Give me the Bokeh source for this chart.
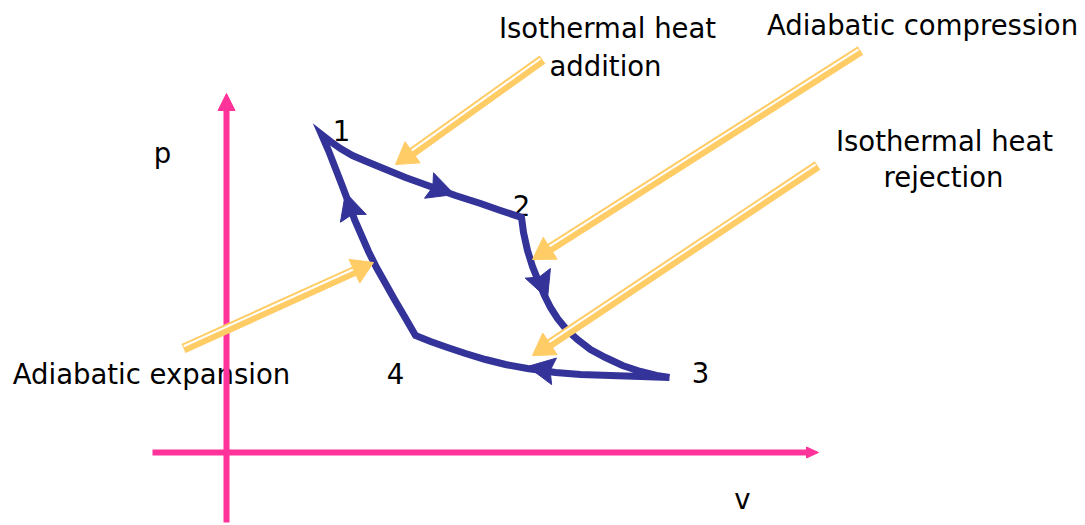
import numpy as np
from bokeh.plotting import figure
from bokeh.models import Range1d
from bokeh.core.properties import value
from bokeh.embed import file_html
from bokeh.resources import INLINE

# ---- data (diagram coordinates: x to the right, y downward, in px of the page) ----
# cycle segments
seg12_x = [321, 330, 340, 352, 366, 383, 405, 430, 455, 480, 500, 521]
seg12_y = [134, 141, 148, 155, 161, 168, 177, 186, 195, 203, 210, 217]
seg23_x = [521, 523, 527, 532, 538, 544, 550, 557, 566, 577, 590, 605, 622, 640, 656, 669]
seg23_y = [217, 232, 250, 266, 281, 295, 307, 318, 329, 339, 349, 357, 365, 371, 375, 377]
seg34_x = [669, 640, 610, 580, 555, 527, 505, 485, 465, 447, 430, 415]
seg34_y = [377, 376, 375, 374, 372, 368, 364, 359, 353, 347, 341, 335]
seg41_x = [415, 404, 394, 385, 376, 368, 361, 354, 348, 342, 335, 328, 321]
seg41_y = [335, 316, 299, 283, 267, 251, 235, 219, 202, 186, 168, 150, 134]

# direction arrows on the cycle (tip, and a point behind it on the curve)
cyc_tip_x = [454, 547, 527, 345]
cyc_tip_y = [194, 298, 366, 192]
cyc_back_x = [420, 537, 560, 352]
cyc_back_y = [182, 272, 372, 215]

# coordinate axes (start -> tip)
axis_start_x = [226, 152]
axis_start_y = [522, 452]
axis_tip_x = [226, 818]
axis_tip_y = [93, 452]

# yellow pointer arrows (tail -> tip)
ptr_tail_x = [542, 860, 817, 183]
ptr_tail_y = [59, 50, 165, 348]
ptr_tip_x = [395, 532, 532, 373]
ptr_tip_y = [164, 259, 355, 262]

# texts
label_text = ["Isothermal heat", "addition", "Adiabatic compression",
              "Isothermal heat", "rejection", "Adiabatic expansion"]
label_x = [607, 605, 922, 944, 943, 151]
label_y = [27, 65, 24, 140, 176, 373]
axis_label_text = ["p", "v"]
axis_label_x = [162, 742]
axis_label_y = [152, 498]
state_text = ["1", "2", "3", "4"]
state_x = [341, 521, 700, 395]
state_y = [130, 205, 372, 373]

BLUE = "#333399"
PINK = "#FF3399"
YELLOW = "#FFCC66"
FONT = "DejaVu Sans"
FS = "27.5px"


def heads(tx, ty, bx, by, length, width, notch=0.0):
    xs, ys = [], []
    for x1, y1, x0, y0 in zip(tx, ty, bx, by):
        d = np.array([x1 - x0, y1 - y0], float)
        d /= np.hypot(*d)
        n = np.array([-d[1], d[0]])
        tip = np.array([x1, y1], float)
        base = tip - d * length
        notchp = tip - d * length * (1 - notch)
        pts = [tip, base + n * width / 2, notchp, base - n * width / 2]
        xs.append([q[0] for q in pts])
        ys.append([q[1] for q in pts])
    return xs, ys


p = figure(width=1085, height=525, x_range=Range1d(0, 1085), y_range=Range1d(525, 0),
           output_backend="svg", toolbar_location=None, min_border=0,
           x_axis_type=None, y_axis_type=None)
p.grid.visible = False
p.outline_line_color = None
p.background_fill_color = "white"
p.border_fill_color = "white"

# texts (under the lines)
p.text(label_x, label_y, text=label_text, text_font=value(FONT), text_font_size=FS,
       text_align="center", text_baseline="alphabetic", text_color="black")
p.text(axis_label_x, axis_label_y, text=axis_label_text, text_font=value(FONT),
       text_font_size=FS, text_align="center", text_baseline="alphabetic", text_color="black")
p.text(state_x, state_y, text=state_text, text_font=value(FONT), text_font_size=FS,
       text_align="center", text_baseline="alphabetic", text_color="black")

# pink axes
ax_sx, ax_sy, ax_ex, ax_ey = [], [], [], []
axis_len = [17, 12]
for sx, sy, ex, ey, L in zip(axis_start_x, axis_start_y, axis_tip_x, axis_tip_y, axis_len):
    d = np.array([ex - sx, ey - sy], float)
    d /= np.hypot(*d)
    ax_sx.append(sx); ax_sy.append(sy)
    ax_ex.append(ex - d[0] * (L - 2)); ax_ey.append(ey - d[1] * (L - 2))
p.segment(ax_sx, ax_sy, ax_ex, ax_ey, line_color=PINK, line_width=6)
hx, hy = heads(axis_tip_x[:1], axis_tip_y[:1], axis_start_x[:1], axis_start_y[:1], 17, 17)
hx2, hy2 = heads(axis_tip_x[1:], axis_tip_y[1:], axis_start_x[1:], axis_start_y[1:], 12, 11)
p.patches(hx + hx2, hy + hy2, fill_color=PINK, line_color=PINK, line_width=1)

# blue cycle: 3 -> 4 -> 1 -> 2 -> 3
loop_x = seg34_x + seg41_x[1:] + seg12_x[1:] + seg23_x[1:]
loop_y = seg34_y + seg41_y[1:] + seg12_y[1:] + seg23_y[1:]
p.line(loop_x, loop_y, line_color=BLUE, line_width=7, line_join="miter", line_cap="butt")
bx, by = heads(cyc_tip_x, cyc_tip_y, cyc_back_x, cyc_back_y, 27, 27, notch=0.15)
p.patches(bx, by, fill_color=BLUE, line_color=BLUE, line_width=1)

# yellow pointer arrows (thick band with thin white stripe)
th_x0, th_y0, th_x1, th_y1 = [], [], [], []
wh_x0, wh_y0, wh_x1, wh_y1 = [], [], [], []
for sx, sy, ex, ey in zip(ptr_tail_x, ptr_tail_y, ptr_tip_x, ptr_tip_y):
    d = np.array([ex - sx, ey - sy], float)
    d /= np.hypot(*d)
    n = np.array([-d[1], d[0]])
    if n[1] > 0:
        n = -n
    th_x0.append(sx); th_y0.append(sy)
    th_x1.append(ex - d[0] * 14); th_y1.append(ey - d[1] * 14)
    wh_x0.append(sx + n[0] * 2 + d[0] * 1); wh_y0.append(sy + n[1] * 2 + d[1] * 1)
    wh_x1.append(ex - d[0] * 19 + n[0] * 2); wh_y1.append(ey - d[1] * 19 + n[1] * 2)
p.segment(th_x0, th_y0, th_x1, th_y1, line_color=YELLOW, line_width=10, line_cap="butt")
p.segment(wh_x0, wh_y0, wh_x1, wh_y1, line_color="white", line_width=2, line_cap="butt")
yx, yy = heads(ptr_tip_x, ptr_tip_y, ptr_tail_x, ptr_tail_y, 21, 26)
p.patches(yx, yy, fill_color=YELLOW, line_color=YELLOW, line_width=1)

open("out.html", "w").write(file_html(p, INLINE))
